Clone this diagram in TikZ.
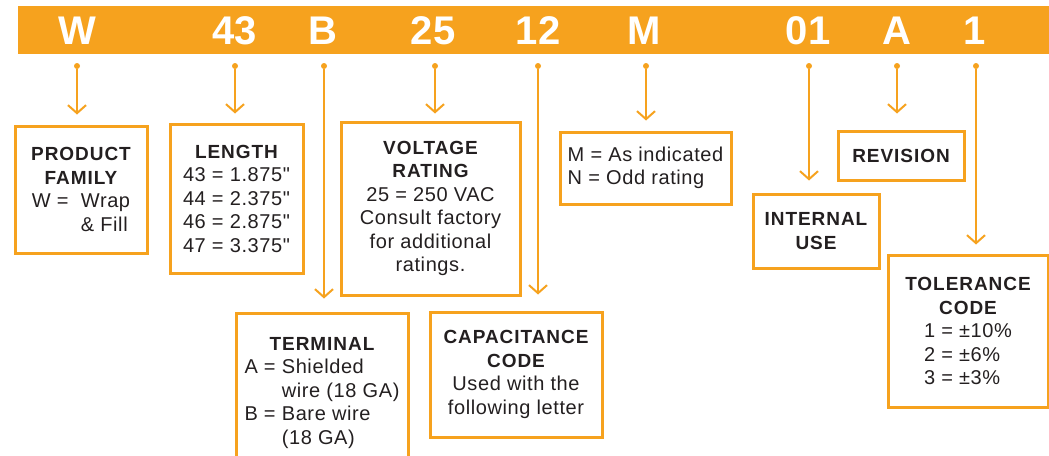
\documentclass[tikz,border=0pt]{standalone}
\usepackage{fontspec}
\usepackage{calc}
\setmainfont{Liberation Sans}
\newfontfamily\bodyf[LetterSpace=3]{Liberation Sans}
\newfontfamily\headff[LetterSpace=5]{Liberation Sans}
\usetikzlibrary{arrows.meta}
\definecolor{orc}{HTML}{F6A21E}
\definecolor{ink}{HTML}{231F20}
\newcommand\hd[1]{{\headff\bfseries\fontsize{19}{23.5}\selectfont #1}}
\newcommand\lb[2]{\makebox[\widthof{#1}][l]{#2}}
\begin{document}
\begin{tikzpicture}[x=1pt,y=-1pt,
  box/.style={draw=orc, line width=3pt, inner sep=0pt, align=center, text=ink,
    font=\bodyf\fontsize{20}{23.5}\selectfont},
  bartxt/.style={text=white, anchor=base, inner sep=0pt,
    font=\bfseries\fontsize{40}{40}\selectfont},
  dotn/.style={circle, fill=orc, inner sep=0pt, minimum size=6pt},
  conn/.style={draw=orc, line width=2pt, -{Straight Barb[length=8pt,width=18pt]}}]
\useasboundingbox (0,0) rectangle (1049,455);
% top bar
\node[fill=orc, minimum width=1031pt, minimum height=48pt, inner sep=0pt, anchor=north west] (bar) at (18,6) {};
\node[bartxt] (tW) at (77,44) {W};
\node[bartxt] (t43) at (235,44) {43};
\node[bartxt] (tB) at (323,44) {B};
\node[bartxt] (t25) at (433,44) {25};
\node[bartxt] (t12) at (538,44) {12};
\node[bartxt] (tM) at (644,44) {M};
\node[bartxt] (t01) at (808,44) {01};
\node[bartxt] (tA) at (897,44) {A};
\node[bartxt] (t1) at (975,44) {1};
% dots
\node[dotn] (dW) at (77,66) {};
\node[dotn] (d43) at (235,66) {};
\node[dotn] (dB) at (324,66) {};
\node[dotn] (d25) at (435,66) {};
\node[dotn] (d12) at (538,66) {};
\node[dotn] (dM) at (646,66) {};
\node[dotn] (d01) at (809,66) {};
\node[dotn] (dA) at (897,66) {};
\node[dotn] (d1) at (976,66) {};
% boxes
\node[box, minimum width=132pt, minimum height=127pt] (fam) at (81,189.5)
  {\hd{PRODUCT}\\\hd{FAMILY}\\\lb{W =\ \ Wrap}{W =\ \ Wrap}\\\lb{W =\ \ Wrap}{\phantom{W =\ \ }\& Fill}};
\node[box, minimum width=133pt, minimum height=149pt] (len) at (236.5,198.5)
  {\hd{LENGTH}\\43 = 1.875"\\44 = 2.375"\\46 = 2.875"\\47 = 3.375"};
\node[box, minimum width=179pt, minimum height=173pt] (volt) at (430.5,208.5)
  {\hd{VOLTAGE}\\\hd{RATING}\\25 = 250 VAC\\Consult factory\\for additional\\ratings.};
\node[box, minimum width=171pt, minimum height=72pt, align=left] (mbox) at (645.5,168)
  {M = As indicated\\N = Odd rating};
\node[box, minimum width=172pt, minimum height=160pt] (term) at (322,393)
  {\hd{TERMINAL}\\
   \lb{\phantom{A = }wire (18 GA)}{A = Shielded}\\
   \lb{\phantom{A = }wire (18 GA)}{\phantom{A = }wire (18 GA)}\\
   \lb{\phantom{A = }wire (18 GA)}{B = Bare wire}\\
   \lb{\phantom{A = }wire (18 GA)}{\phantom{B = }(18 GA)}};
\node[box, minimum width=172pt, minimum height=125pt] (cap) at (516,374.5)
  {\hd{CAPACITANCE}\\\hd{CODE}\\Used with the\\following letter};
\node[box, minimum width=126pt, minimum height=74pt] (intl) at (816,231)
  {\hd{INTERNAL}\\\hd{USE}};
\node[box, minimum width=126pt, minimum height=49pt] (rev) at (901,155.5)
  {\hd{REVISION}};
\node[box, minimum width=160pt, minimum height=152pt] (tol) at (968,331)
  {\hd{TOLERANCE}\\\hd{CODE}\\\lb{1 = ±10\%}{1 = ±10\%}\\\lb{1 = ±10\%}{2 = ±6\%}\\\lb{1 = ±10\%}{3 = ±3\%}};
% connectors
\draw[conn, shorten >=10pt] (dW) -- (dW |- fam.north);
\draw[conn, shorten >=9pt] (d43) -- (d43 |- len.north);
\draw[conn, shorten >=13pt] (dB) -- (dB |- term.north);
\draw[conn, shorten >=7pt] (d25) -- (d25 |- volt.north);
\draw[conn, shorten >=16pt] (d12) -- (d12 |- cap.north);
\draw[conn, shorten >=10pt] (dM) -- (dM |- mbox.north);
\draw[conn, shorten >=12pt] (d01) -- (d01 |- intl.north);
\draw[conn, shorten >=16pt] (dA) -- (dA |- rev.north);
\draw[conn, shorten >=9pt] (d1) -- (d1 |- tol.north);
\end{tikzpicture}
\end{document}
